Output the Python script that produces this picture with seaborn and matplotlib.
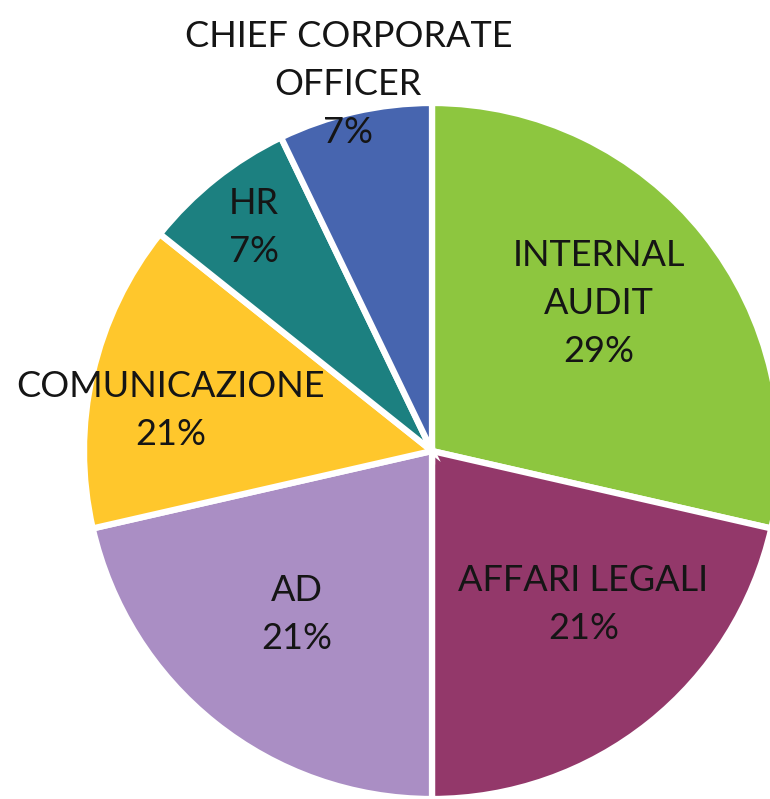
import numpy as np
import seaborn as sns
import matplotlib.pyplot as plt

sns.set_theme(style="white")
plt.rcParams['font.family'] = ['Lato', 'DejaVu Sans']

categories = ['INTERNAL\nAUDIT', 'AFFARI LEGALI', 'AD', 'COMUNICAZIONE', 'HR',
              'CHIEF CORPORATE\nOFFICER']
counts = [4, 3, 3, 2, 1, 1]
pct_labels = ['29%', '21%', '21%', '21%', '7%', '7%']
colors = sns.color_palette(['#8DC63F', '#93386A', '#AA8EC4', '#FFC72C', '#1C8080', '#4765AF'])

# label placement (radius, angle offset in degrees) per wedge
label_r = [0.64, 0.62, 0.61, 0.76, 0.82, 1.08]
label_da = [3, 6, -1, 4, 0, 0]

fig = plt.figure(figsize=(7.70, 7.99), dpi=100)
ax = fig.add_axes([0, 0, 1, 1])

wedges, _ = ax.pie(counts, colors=colors, startangle=90, counterclock=False,
                   radius=1, wedgeprops=dict(edgecolor='white', linewidth=4.5))

for i, w in enumerate(wedges):
    mid = np.deg2rad((w.theta1 + w.theta2) / 2 + label_da[i])
    x = label_r[i] * np.cos(mid)
    y = label_r[i] * np.sin(mid)
    ax.text(x, y, categories[i] + '\n' + pct_labels[i], ha='center', va='center',
            fontsize=26, color='#151515', linespacing=1.55)

ax.set_xlim(-432 / 348, 338 / 348)
ax.set_ylim(-348 / 348, 451 / 348)
ax.set_aspect('auto')
ax.axis('off')

fig.savefig('out.png', dpi=100)
